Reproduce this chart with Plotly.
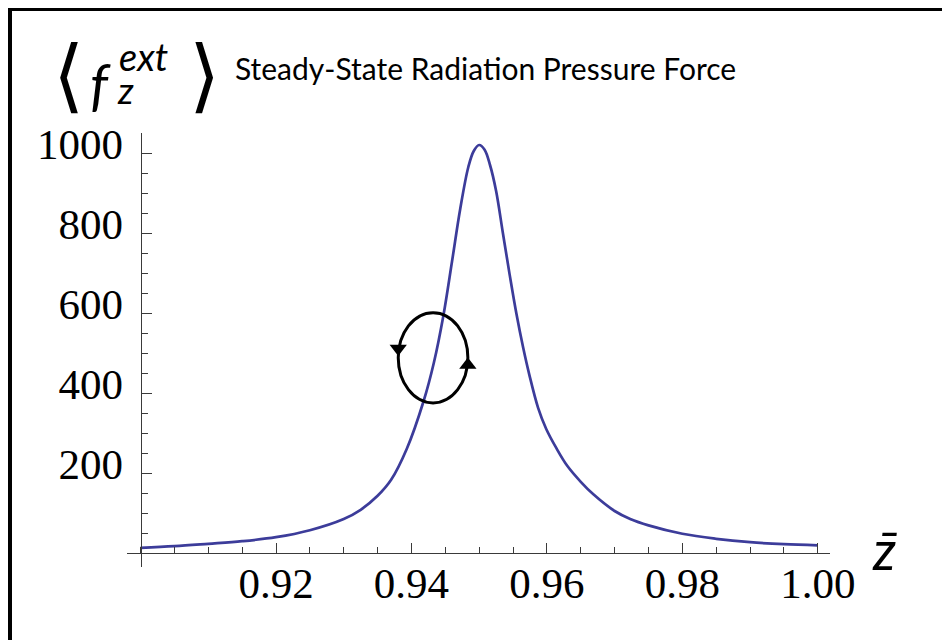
import plotly.graph_objects as go

# ---- data ----
z_bar = [0.900, 0.905, 0.910, 0.915, 0.920, 0.925, 0.930, 0.9325, 0.935, 0.937,
         0.9393, 0.9418, 0.9433, 0.9447, 0.9460, 0.9472, 0.9484, 0.9492, 0.9500,
         0.9508, 0.9516, 0.9525, 0.9535, 0.9545, 0.9555, 0.9565, 0.9574, 0.9587,
         0.9599, 0.9614, 0.9630, 0.9650, 0.9669, 0.9700, 0.9723, 0.9750, 0.9800,
         0.9850, 0.9900, 0.9950, 1.0000]
force = [13, 17, 23, 29.5, 39.5, 57, 85, 108, 143, 183,
         260, 380, 475, 592, 730, 860, 965, 1005, 1020,
         1008, 970, 905, 800, 696, 598, 513, 446, 363,
         310, 262, 218, 178, 146, 105, 85, 69, 48,
         35.5, 27, 22, 19]

x_tick_vals = [0.92, 0.94, 0.96, 0.98, 1.00]
x_tick_text = ["0.92", "0.94", "0.96", "0.98", "1.00"]
y_tick_vals = [200, 400, 600, 800, 1000]
y_tick_text = ["200", "400", "600", "800", "1000"]

# loop (hysteresis) annotation: centre and radii in data units
loop_cx, loop_cy = 0.94319, 488
loop_rx, loop_ry = 0.00514, 112.7
arrow_down_y = 511
arrow_up_y = 470

title_text = "Steady-State Radiation Pressure Force"

# ---- layout geometry (page has an 8px body margin) ----
OFF = 8
W, H = 942, 632
ML, MR, MT, MB = 119, 120, 125, 73
XR = [0.898, 1.0018]
YR = [-35, 1050]
PW, PH = W - ML - MR, H - MT - MB


def px(xp):  # page pixel x -> paper
    return (xp - OFF - ML) / PW


def py(yp):  # page pixel y -> paper
    return (H - MB - (yp - OFF)) / PH


curve_color = "#3c3c9a"
axis_color = "#3a3a3a"

fig = go.Figure()
fig.add_trace(go.Scatter(x=z_bar, y=force, mode="lines",
                         line=dict(color=curve_color, width=2.7, shape="spline", smoothing=1.0),
                         hoverinfo="skip", showlegend=False))

# loop arrows
fig.add_trace(go.Scatter(x=[loop_cx - loop_rx], y=[arrow_down_y], mode="markers",
                         marker=dict(symbol="triangle-down", size=15, color="black"),
                         showlegend=False, hoverinfo="skip"))
fig.add_trace(go.Scatter(x=[loop_cx + loop_rx], y=[arrow_up_y], mode="markers",
                         marker=dict(symbol="triangle-up", size=15, color="black"),
                         showlegend=False, hoverinfo="skip"))

fig.add_shape(type="circle", xref="x", yref="y",
              x0=loop_cx - loop_rx, x1=loop_cx + loop_rx,
              y0=loop_cy - loop_ry, y1=loop_cy + loop_ry,
              line=dict(color="black", width=3))

# outer frame
fig.add_shape(type="rect", xref="paper", yref="paper",
              x0=px(10), x1=px(945), y0=py(700), y1=py(9),
              line=dict(color="black", width=4), fillcolor="rgba(0,0,0,0)")

tick_font = dict(family="Liberation Serif", size=43, color="black")

fig.update_layout(
    width=W, height=H,
    margin=dict(l=ML, r=MR, t=MT, b=MB, pad=0),
    paper_bgcolor="white", plot_bgcolor="white",
    xaxis=dict(range=XR, showgrid=False, zeroline=False,
               anchor="free", position=(0 - YR[0]) / (YR[1] - YR[0]),
               showline=True, linecolor=axis_color, linewidth=1,
               tickmode="array", tickvals=x_tick_vals, ticktext=x_tick_text,
               ticks="inside", ticklen=10, tickwidth=1, tickcolor=axis_color,
               tickfont=tick_font, ticklabelstandoff=-8,
               minor=dict(tickmode="linear", tick0=0.9, dtick=0.005, ticks="inside",
                          ticklen=6, tickwidth=1, tickcolor=axis_color, showgrid=False)),
    yaxis=dict(range=YR, showgrid=False, zeroline=False,
               anchor="free", position=(0.9 - XR[0]) / (XR[1] - XR[0]),
               showline=True, linecolor=axis_color, linewidth=1,
               tickmode="array", tickvals=y_tick_vals, ticktext=y_tick_text,
               ticks="inside", ticklen=10, tickwidth=1, tickcolor=axis_color,
               tickfont=tick_font, ticklabelstandoff=9, ticklabelshift=-9,
               minor=dict(tickmode="linear", tick0=0, dtick=50, ticks="inside",
                          ticklen=6, tickwidth=1, tickcolor=axis_color, showgrid=False)),
)

math_font = "Lato"
# f with stacked super/subscripts in one two-line text block
math_label = ("<span style='font-size:58px'>\u2002</span>"
              "<i><span style='font-size:38px'>ext</span></i><br>"
              "<i><span style='font-size:56px'>f</span></i>"
              "<span style='font-size:20px'>\u2002</span>"
              "<i><span style='font-size:37px'>z</span></i>")
anns = [
    dict(text="\u27e8", x=px(86), y=py(76), xanchor="right",
         font=dict(family="DejaVu Sans", size=80, color="black")),
    dict(text=math_label, x=px(88), y=py(64.5), xanchor="left", align="left",
         font=dict(family=math_font, size=25, color="black")),
    dict(text="\u27e9", x=px(187), y=py(76), xanchor="left",
         font=dict(family="DejaVu Sans", size=80, color="black")),
    dict(text=title_text, x=px(233), y=py(68), xanchor="left",
         font=dict(family="Lato", size=30, color="black")),
    dict(text="<i>z\u0304</i>", x=px(885), y=py(549), font=dict(family=math_font, size=54, color="black")),
]
for a in anns:
    a.setdefault("xanchor", "center")
    fig.add_annotation(xref="paper", yref="paper", showarrow=False, yanchor="middle", **a)

fig.write_html("out.html")
